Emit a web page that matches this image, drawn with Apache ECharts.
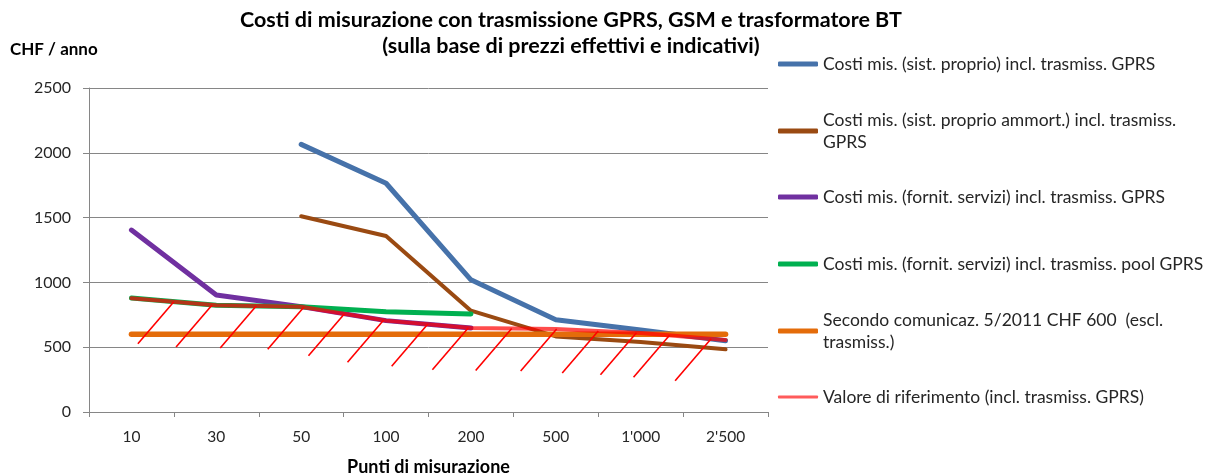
<!DOCTYPE html>
<html><head><meta charset="utf-8">
<script src="https://cdn.jsdelivr.net/npm/echarts@6/dist/echarts.min.js"></script>
<style>html,body{margin:0;padding:0;background:#fff}#c{width:1209px;height:475px}</style>
</head><body><div id="c"></div>
<script>
const categories = ['10', '30', '50', '100', '200', '500', "1'000", "2'500"];
const sistProprio = [null, null, 2065, 1765, 1020, 712, 632, 550];
const sistAmmort = [null, null, 1510, 1358, 782, 583, 540, 484];
const fornitServizi = [1404, 903, 813, 705, 648, null, null, null];
const fornitPool = [880, 823, 813, 774, 756, null, null, null];
const comunicaz = [600, 600, 600, 600, 600, 600, 600, 600];
const riferimento = [878, 823, 812, 705, 648, 640, 610, 556];
const hatchAt = [0.5, 0.95, 1.47, 2.03, 2.51, 2.97, 3.49, 3.97, 4.48, 5.01, 5.5, 5.95, 6.34, 6.83];
const seriesNames = [
  'Costi mis. (sist. proprio) incl. trasmiss. GPRS',
  'Costi mis. (sist. proprio ammort.) incl. trasmiss. GPRS',
  'Costi mis. (fornit. servizi) incl. trasmiss. GPRS',
  'Costi mis. (fornit. servizi) incl. trasmiss. pool GPRS',
  'Secondo comunicaz. 5/2011 CHF 600  (escl. trasmiss.)',
  'Valore di riferimento (incl. trasmiss. GPRS)'
];
const legendLabels = [
  'Costi mis. (sist. proprio) incl. trasmiss. GPRS',
  'Costi mis. (sist. proprio ammort.) incl. trasmiss.\nGPRS',
  'Costi mis. (fornit. servizi) incl. trasmiss. GPRS',
  'Costi mis. (fornit. servizi) incl. trasmiss. pool GPRS',
  'Secondo comunicaz. 5/2011 CHF 600  (escl.\ntrasmiss.)',
  'Valore di riferimento (incl. trasmiss. GPRS)'
];
const titleLine1 = 'Costi di misurazione con trasmissione GPRS, GSM e trasformatore BT';
const titleLine2 = '(sulla base di prezzi effettivi e indicativi)';
const yAxisTitle = 'CHF / anno';
const xAxisTitle = 'Punti di misurazione';

const FONT = 'Lato, "Open Sans", sans-serif';
const colors = ['#4672AA', '#9A4A12', '#7030A0', '#00B050', '#E46C0A', '#FF0000'];
const widths = [5, 4, 5, 5, 5.5, 4];
const values = [sistProprio, sistAmmort, fornitServizi, fornitPool, comunicaz, riferimento];
const legendCenters = [64, 131, 197, 264, 331, 397];
const twoLine = [false, true, false, false, true, false];

const chart = echarts.init(document.getElementById('c'), null, {renderer: 'canvas'});

const series = values.map((v, k) => ({
  type: 'line',
  name: seriesNames[k],
  data: v,
  symbol: 'none',
  connectNulls: false,
  silent: true,
  itemStyle: {color: colors[k]},
  lineStyle: {color: colors[k], width: widths[k], cap: 'round', join: 'round', opacity: k === 5 ? 0.7 : 1},
  z: 2 + k
}));

series.push({
  type: 'custom',
  name: 'hatch',
  silent: true,
  clip: false,
  z: 20,
  data: hatchAt.map(p => [Math.floor(p), riferimento[Math.floor(p)], p]),
  encode: {x: 0, y: 1},
  renderItem: (params, api) => {
    const p = api.value(2);
    const i = Math.min(Math.floor(p), riferimento.length - 2);
    const f = p - i;
    const a = api.coord([i, riferimento[i]]);
    const b = api.coord([i + 1, riferimento[i + 1]]);
    const x = a[0] + f * (b[0] - a[0]);
    const y = a[1] + f * (b[1] - a[1]);
    return {type: 'line', shape: {x1: x, y1: y, x2: x - 36, y2: y + 42},
      style: {stroke: '#FF0000', lineWidth: 1.6}};
  }
});

const legends = seriesNames.map((n, k) => {
  const lh = 22;
  const top = twoLine[k] ? legendCenters[k] - 1.5 * lh : legendCenters[k] - lh / 2;
  return {
    left: 778, top: top, padding: 0, orient: 'vertical',
    itemWidth: 40, itemHeight: k === 5 ? 3 : 5, icon: 'roundRect',
    selectedMode: false,
    data: [{name: n, itemStyle: {color: k === 5 ? '#FF5B5B' : colors[k]}}],
    formatter: () => legendLabels[k],
    textStyle: {fontFamily: FONT, fontSize: 17.5, color: '#262626', lineHeight: lh,
      padding: twoLine[k] ? [lh, 0, 0, 0] : 0}
  };
});

chart.setOption({
  animation: false,
  backgroundColor: '#fff',
  textStyle: {fontFamily: FONT},
  grid: {left: 89, right: 441, top: 88, bottom: 63, containLabel: false, outerBoundsMode: 'none'},
  graphic: [
    {type: 'text', x: 571, y: 20, style: {text: titleLine1, font: 'bold 21.5px ' + FONT, fill: '#000', align: 'center', verticalAlign: 'middle'}},
    {type: 'text', x: 571, y: 46, style: {text: titleLine2, font: 'bold 21.5px ' + FONT, fill: '#000', align: 'center', verticalAlign: 'middle'}},
    {type: 'text', x: 10, y: 50, style: {text: yAxisTitle, font: 'bold 17px ' + FONT, fill: '#000', align: 'left', verticalAlign: 'middle'}}
  ],
  legend: legends,
  xAxis: {
    type: 'category', data: categories, boundaryGap: true,
    name: xAxisTitle, nameLocation: 'middle', nameGap: 46,
    nameTextStyle: {fontFamily: FONT, fontWeight: 'bold', fontSize: 18, color: '#000'},
    axisLine: {lineStyle: {color: '#868686', width: 1}},
    axisTick: {show: true, length: 5, lineStyle: {color: '#868686'}},
    axisLabel: {margin: 17, fontFamily: FONT, fontSize: 15.5, color: '#262626'},
    splitLine: {show: false}
  },
  yAxis: {
    type: 'value', min: 0, max: 2500, interval: 500,
    axisLine: {show: true, lineStyle: {color: '#868686', width: 1}},
    axisTick: {show: true, length: 6, lineStyle: {color: '#868686'}},
    axisLabel: {margin: 18, fontFamily: FONT, fontSize: 16, color: '#262626', formatter: v => String(v)},
    splitLine: {show: true, lineStyle: {color: '#868686', width: 1}}
  },
  series: series
});
</script></body></html>
